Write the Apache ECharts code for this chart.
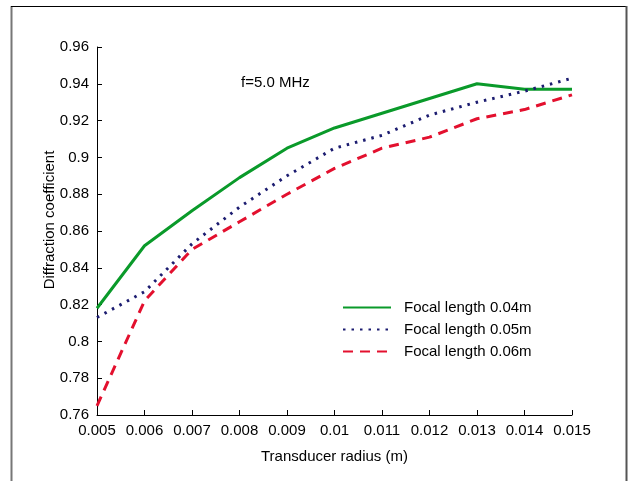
<!DOCTYPE html>
<html><head><meta charset="utf-8">
<script src="https://cdn.jsdelivr.net/npm/echarts@6/dist/echarts.min.js"></script>
<style>html,body{margin:0;padding:0;background:#fff}#c{width:630px;height:481px}</style>
</head><body><div id="c"></div>
<script>
const radius = [0.005,0.006,0.007,0.008,0.009,0.010,0.011,0.012,0.013,0.014,0.015];
const focal004 = [0.818,0.852,0.871,0.889,0.905,0.916,0.924,0.932,0.940,0.937,0.937];
const focal005 = [0.813,0.827,0.853,0.873,0.890,0.905,0.912,0.923,0.930,0.936,0.943];
const focal006 = [0.765,0.822,0.850,0.865,0.880,0.894,0.905,0.911,0.921,0.926,0.934];
const seriesNames = ['Focal length 0.04m','Focal length 0.05m','Focal length 0.06m'];
const xName = 'Transducer radius (m)';
const yName = 'Diffraction coefficient';
const annotation = 'f=5.0 MHz';

const pairs = arr => radius.map((r,i)=>[r,arr[i]]);
const font = 'Liberation Sans, Arial, sans-serif';
const chart = echarts.init(document.getElementById('c'), null, {renderer:'canvas'});
chart.setOption({
  animation:false,
  backgroundColor:'#fff',
  grid:{left:97,right:58,top:47,bottom:66,containLabel:false},
  xAxis:{type:'value',min:0.005,max:0.015,interval:0.001,
    name:xName,nameLocation:'middle',nameGap:34,
    nameTextStyle:{color:'#000',fontSize:15,fontFamily:font},
    axisLine:{show:true,lineStyle:{color:'#000',width:1}},
    axisTick:{show:true,inside:true,length:5,lineStyle:{color:'#000'}},
    axisLabel:{color:'#000',fontSize:15,fontFamily:font,margin:8},
    splitLine:{show:false}},
  yAxis:{type:'value',min:0.76,max:0.96,interval:0.02,
    name:yName,nameLocation:'middle',nameGap:40,nameMoveOverlap:false,
    nameTextStyle:{color:'#000',fontSize:15,fontFamily:font,padding:[0,0,0,22]},
    axisLine:{show:true,lineStyle:{color:'#000',width:1}},
    axisTick:{show:true,inside:true,length:5,lineStyle:{color:'#000'}},
    axisLabel:{color:'#000',fontSize:15,fontFamily:font,margin:8},
    splitLine:{show:false}},
  legend:{orient:'vertical',left:337,top:295,itemWidth:48,itemHeight:14,itemGap:7,
    itemStyle:{opacity:0},
    textStyle:{color:'#000',fontSize:15,fontFamily:font,padding:[0,0,0,8]},
    data:seriesNames},
  graphic:[
    {type:'text',left:241,top:75,style:{text:annotation,fill:'#000',font:'15px '+font}},
    {type:'line',shape:{x1:11.5,y1:6,x2:11.5,y2:481},style:{stroke:'#777',lineWidth:2}},
    {type:'line',shape:{x1:11,y1:6.5,x2:627,y2:6.5},style:{stroke:'#000',lineWidth:1}},
    {type:'line',shape:{x1:626.5,y1:6,x2:626.5,y2:481},style:{stroke:'#555',lineWidth:2}}
  ],
  series:[
    {name:seriesNames[0],type:'line',data:pairs(focal004),symbol:'none',
     lineStyle:{color:'#0a9a2a',width:3,type:'solid'},itemStyle:{color:'#0a9a2a'}},
    {name:seriesNames[1],type:'line',data:pairs(focal005),symbol:'none',
     lineStyle:{color:'#1c1c70',width:3,type:[2.5,6]},itemStyle:{color:'#1c1c70'}},
    {name:seriesNames[2],type:'line',data:pairs(focal006),symbol:'none',
     lineStyle:{color:'#e3102e',width:3,type:[10,7]},itemStyle:{color:'#e3102e'}}
  ]
});
</script></body></html>
